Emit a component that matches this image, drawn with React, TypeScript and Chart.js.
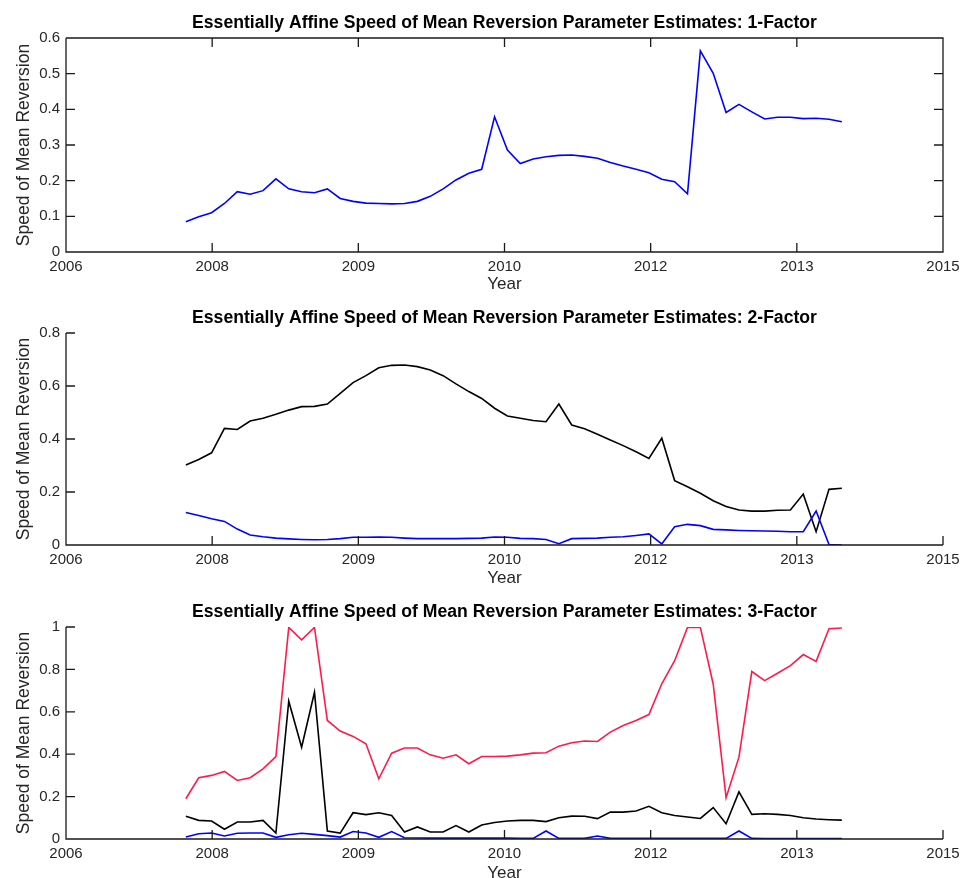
import React, { useEffect, useRef } from 'react';
import { Chart, registerables } from 'chart.js';

Chart.register(...registerables);

// Observation dates (MATLAB-style day numbers)
const dates = [
  733410, 733454, 733498, 733542, 733586, 733630, 733674, 733718, 733762, 733806,
  733850, 733894, 733938, 733982, 734026, 734070, 734114, 734158, 734202, 734246,
  734290, 734334, 734378, 734422, 734466, 734510, 734554, 734598, 734642, 734686,
  734730, 734774, 734818, 734862, 734906, 734950, 734994, 735038, 735082, 735126,
  735170, 735214, 735258, 735302, 735346, 735390, 735434, 735478, 735522, 735566,
  735610, 735654,
];

// X tick positions and their (datetick) labels
const xTickValues = [733000, 733500, 734000, 734500, 735000, 735500, 736000];
const xTickLabels = ['2006', '2008', '2009', '2010', '2012', '2013', '2015'];

// 1-factor
const oneFactor = [
  0.085, 0.099, 0.110, 0.136, 0.169, 0.162, 0.172, 0.205, 0.177, 0.169,
  0.166, 0.177, 0.150, 0.142, 0.137, 0.136, 0.135, 0.136, 0.142, 0.156,
  0.177, 0.202, 0.221, 0.232, 0.379, 0.286, 0.248, 0.261, 0.267, 0.271,
  0.272, 0.268, 0.263, 0.251, 0.241, 0.232, 0.222, 0.204, 0.197, 0.163,
  0.564, 0.501, 0.391, 0.414, 0.393, 0.373, 0.378, 0.378, 0.374, 0.375,
  0.372, 0.365,
];

// 2-factor
const twoFactorBlack = [
  0.302, 0.323, 0.348, 0.440, 0.436, 0.468, 0.478, 0.493, 0.509, 0.522,
  0.523, 0.532, 0.572, 0.613, 0.639, 0.669, 0.678, 0.679, 0.673, 0.660,
  0.639, 0.608, 0.579, 0.553, 0.516, 0.487, 0.478, 0.470, 0.465, 0.532,
  0.453, 0.439, 0.418, 0.396, 0.375, 0.352, 0.327, 0.403, 0.243, 0.220,
  0.195, 0.167, 0.145, 0.132, 0.128, 0.128, 0.131, 0.132, 0.192, 0.050,
  0.210, 0.214,
];
const twoFactorBlue = [
  0.123, 0.111, 0.099, 0.089, 0.060, 0.038, 0.031, 0.026, 0.023, 0.021,
  0.020, 0.021, 0.024, 0.029, 0.029, 0.030, 0.029, 0.026, 0.024, 0.024,
  0.024, 0.024, 0.025, 0.026, 0.030, 0.029, 0.025, 0.024, 0.021, 0.005,
  0.024, 0.025, 0.026, 0.029, 0.031, 0.036, 0.042, 0.004, 0.069, 0.078,
  0.073, 0.059, 0.057, 0.055, 0.054, 0.053, 0.052, 0.050, 0.050, 0.128,
  0.002, 0.000,
];

// 3-factor
const threeFactorRed = [
  0.190, 0.289, 0.300, 0.319, 0.276, 0.289, 0.331, 0.389, 0.998, 0.939,
  0.998, 0.559, 0.509, 0.484, 0.449, 0.284, 0.405, 0.429, 0.429, 0.397,
  0.381, 0.397, 0.355, 0.389, 0.389, 0.391, 0.397, 0.405, 0.407, 0.438,
  0.454, 0.462, 0.460, 0.504, 0.535, 0.559, 0.587, 0.732, 0.841, 0.998,
  0.998, 0.730, 0.195, 0.386, 0.790, 0.747, 0.782, 0.818, 0.870, 0.838,
  0.992, 0.995,
];
const threeFactorBlack = [
  0.107, 0.088, 0.085, 0.046, 0.080, 0.080, 0.088, 0.028, 0.650, 0.433,
  0.692, 0.038, 0.028, 0.124, 0.115, 0.124, 0.111, 0.033, 0.057, 0.033,
  0.033, 0.063, 0.033, 0.066, 0.078, 0.085, 0.088, 0.088, 0.082, 0.100,
  0.108, 0.107, 0.096, 0.127, 0.127, 0.132, 0.154, 0.124, 0.111, 0.104,
  0.097, 0.148, 0.072, 0.222, 0.116, 0.119, 0.116, 0.111, 0.100, 0.094,
  0.091, 0.089,
];
const threeFactorBlue = [
  0.009, 0.025, 0.028, 0.014, 0.027, 0.028, 0.028, 0.008, 0.020, 0.027,
  0.022, 0.016, 0.009, 0.035, 0.028, 0.008, 0.035, 0.006, 0.005, 0.004,
  0.004, 0.004, 0.004, 0.004, 0.004, 0.004, 0.003, 0.003, 0.038, 0.003,
  0.003, 0.003, 0.014, 0.003, 0.003, 0.003, 0.003, 0.003, 0.003, 0.003,
  0.003, 0.003, 0.003, 0.038, 0.003, 0.002, 0.002, 0.002, 0.002, 0.002,
  0.002, 0.002,
];

const BLUE = '#0000ff';
const BLACK = '#000000';
const RED = '#ff1a4b';
const FONT = '"Liberation Sans", Arial, Helvetica, sans-serif';

const CANVAS_W = 963;
const CANVAS_H = 295;

type Series = { values: number[]; color: string };
type Panel = {
  title: string;
  top: number;
  padTop: number;
  xAxisH: number;
  yearPad: number;
  yMax: number;
  yStep: number;
  box: boolean;
  series: Series[];
};

const panels: Panel[] = [
  {
    title: 'Essentially Affine Speed of Mean Reversion Parameter Estimates: 1-Factor',
    top: 0, padTop: 38, xAxisH: 43, yearPad: 0, yMax: 0.6, yStep: 0.1, box: true,
    series: [{ values: oneFactor, color: BLUE }],
  },
  {
    title: 'Essentially Affine Speed of Mean Reversion Parameter Estimates: 2-Factor',
    top: 295, padTop: 38, xAxisH: 45, yearPad: 1, yMax: 0.8, yStep: 0.2, box: false,
    series: [{ values: twoFactorBlue, color: BLUE }, { values: twoFactorBlack, color: BLACK }],
  },
  {
    title: 'Essentially Affine Speed of Mean Reversion Parameter Estimates: 3-Factor',
    top: 590, padTop: 37, xAxisH: 46, yearPad: 1, yMax: 1, yStep: 0.2, box: false,
    series: [
      { values: threeFactorBlue, color: BLUE },
      { values: threeFactorBlack, color: BLACK },
      { values: threeFactorRed, color: RED },
    ],
  },
];

const matlabAxes = {
  id: 'matlabAxes',
  afterDatasetsDraw(chart: any, _args: any, opts: any) {
    const { ctx, chartArea: a, scales } = chart;
    const xs = scales.x;
    const ys = scales.y;
    const L = 9;
    ctx.save();
    ctx.strokeStyle = '#1a1a1a';
    ctx.lineWidth = 1.3;
    ctx.beginPath();
    ctx.moveTo(a.left, a.top);
    ctx.lineTo(a.left, a.bottom);
    ctx.lineTo(a.right, a.bottom);
    if (opts.box) {
      ctx.lineTo(a.right, a.top);
      ctx.lineTo(a.left, a.top);
    }
    xs.ticks.forEach((t: any) => {
      const px = xs.getPixelForValue(t.value);
      ctx.moveTo(px, a.bottom);
      ctx.lineTo(px, a.bottom - L);
      if (opts.box) {
        ctx.moveTo(px, a.top);
        ctx.lineTo(px, a.top + L);
      }
    });
    ys.ticks.forEach((t: any) => {
      const py = ys.getPixelForValue(t.value);
      ctx.moveTo(a.left, py);
      ctx.lineTo(a.left + L, py);
      if (opts.box) {
        ctx.moveTo(a.right, py);
        ctx.lineTo(a.right - L, py);
      }
    });
    ctx.stroke();
    ctx.fillStyle = '#000';
    ctx.font = `bold 17.6px ${FONT}`;
    ctx.textAlign = 'center';
    ctx.textBaseline = 'middle';
    ctx.fillText(opts.title, (a.left + a.right) / 2, a.top - 15);
    ctx.restore();
  },
};

function PanelChart({ panel }: { panel: Panel }) {
  const ref = useRef<HTMLCanvasElement | null>(null);
  useEffect(() => {
    if (!ref.current) return;
    const chart = new Chart(ref.current, {
      type: 'line',
      data: {
        datasets: panel.series.map((s) => ({
          data: dates.map((d, i) => ({ x: d, y: s.values[i] })),
          borderColor: s.color,
          backgroundColor: s.color,
          borderWidth: 1.6,
          pointRadius: 0,
          tension: 0,
          fill: false,
        })),
      },
      options: {
        responsive: false,
        animation: false,
        events: [],
        layout: { padding: { top: panel.padTop, right: 20, left: 0, bottom: 0 } },
        plugins: {
          legend: { display: false },
          tooltip: { enabled: false },
          title: { display: false },
          matlabAxes: { box: panel.box, title: panel.title },
        } as any,
        scales: {
          x: {
            type: 'linear',
            min: xTickValues[0],
            max: xTickValues[xTickValues.length - 1],
            grid: { display: false, drawTicks: false },
            border: { display: false },
            afterBuildTicks: (s: any) => {
              s.ticks = xTickValues.map((v) => ({ value: v }));
            },
            afterFit: (s: any) => {
              s.height = panel.xAxisH;
              s.paddingLeft = 0;
              s.paddingRight = 0;
            },
            ticks: {
              autoSkip: false,
              maxRotation: 0,
              padding: 6,
              color: '#262626',
              font: { family: FONT, size: 15 },
              callback: (v: any) => xTickLabels[xTickValues.indexOf(Number(v))],
            },
            title: {
              display: true,
              text: 'Year',
              color: '#262626',
              font: { family: FONT, size: 17 },
              padding: { top: 0, bottom: panel.yearPad },
            },
          },
          y: {
            type: 'linear',
            min: 0,
            max: panel.yMax,
            grid: { display: false, drawTicks: false },
            border: { display: false },
            afterFit: (s: any) => {
              s.width = 66;
            },
            ticks: {
              stepSize: panel.yStep,
              padding: 6,
              color: '#262626',
              font: { family: FONT, size: 15 },
              callback: (v: any) => String(Math.round(Number(v) * 10) / 10),
            },
            title: {
              display: true,
              text: 'Speed of Mean Reversion',
              color: '#262626',
              font: { family: FONT, size: 17.5 },
              padding: { top: 14, bottom: 0 },
            },
          },
        },
      },
      plugins: [matlabAxes],
    } as any);
    return () => chart.destroy();
  }, [panel]);
  return (
    <canvas
      ref={ref}
      width={CANVAS_W}
      height={CANVAS_H}
      style={{ position: 'absolute', left: 0, top: panel.top, width: CANVAS_W, height: CANVAS_H }}
    />
  );
}

export default function App() {
  return (
    <div
      style={{
        position: 'absolute',
        left: 0,
        top: 0,
        width: CANVAS_W,
        height: 878,
        overflow: 'hidden',
        background: '#fff',
      }}
    >
      {panels.map((p, i) => (
        <PanelChart key={i} panel={p} />
      ))}
    </div>
  );
}
